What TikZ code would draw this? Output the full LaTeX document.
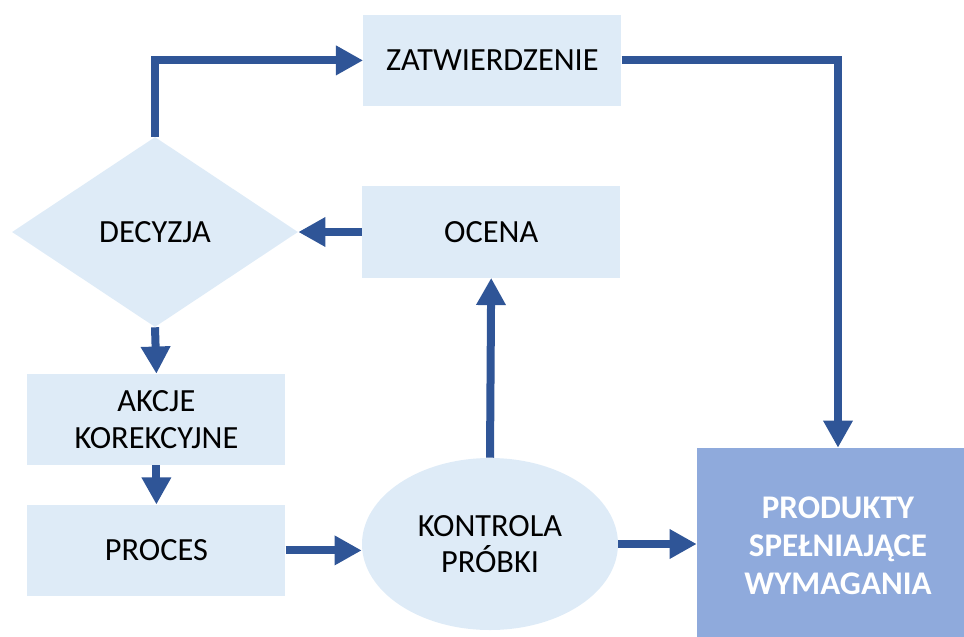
\documentclass[tikz,border=0pt]{standalone}
\usepackage{fontspec}
\setmainfont{Carlito}
\usetikzlibrary{positioning,shapes.geometric,arrows.meta}
\definecolor{boxfill}{HTML}{DEEBF7}
\definecolor{arrowblue}{HTML}{2F5597}
\definecolor{prodfill}{HTML}{8FAADC}

\begin{document}
\begin{tikzpicture}[every node/.style={fill=boxfill, inner sep=0pt, align=center, font=\fontsize{23}{26}\selectfont},
  box/.style={rectangle, minimum width=6.45cm, minimum height=2.28cm},
  flow/.style={draw=arrowblue, line width=0.2cm, -{Triangle[length=0.68cm, width=0.7cm]}}]

% Quality control loop.

\clip (0,0) rectangle (24.1,-15.9);

\node[box] (zat) at (12.31,-1.51) {ZATWIERDZENIE};
\node[box] (ocena) at (12.28,-5.8) {OCENA};
\node[diamond, aspect=1.5, minimum width=7.15cm, minimum height=4.75cm] (dec) at (3.875,-5.8) {DECYZJA};
\node[box] (akcje) at (3.91,-10.49) {AKCJE\\KOREKCYJNE};
\node[box] (proces) at (3.91,-13.76) {PROCES};
\node[ellipse, minimum width=6.4cm, minimum height=4.3cm] (kon) at (12.25,-13.6) {KONTROLA\\PRÓBKI};
\node[rectangle, fill=prodfill, text=white, minimum width=7.05cm, minimum height=4.9cm,
  font=\fontsize{23.5}{27}\selectfont\bfseries] (prod) at (20.95,-13.65) {PRODUKTY\\SPEŁNIAJĄCE\\WYMAGANIA};

\draw[flow] (dec.north) |- (zat.west);
\draw[flow] (zat.east) -| (prod.north);
\draw[flow] (ocena.west) -- (dec.east);
\draw[flow] (dec.south) -- (akcje.north);
\draw[flow] (akcje.south) -- (proces.north);
\draw[flow] (proces.east) -- (proces.east -| kon.west);
\draw[flow] (kon.east) -- (kon.east -| prod.west);
\draw[flow] (kon.north) -- (ocena.south);

\end{tikzpicture}
\end{document}
